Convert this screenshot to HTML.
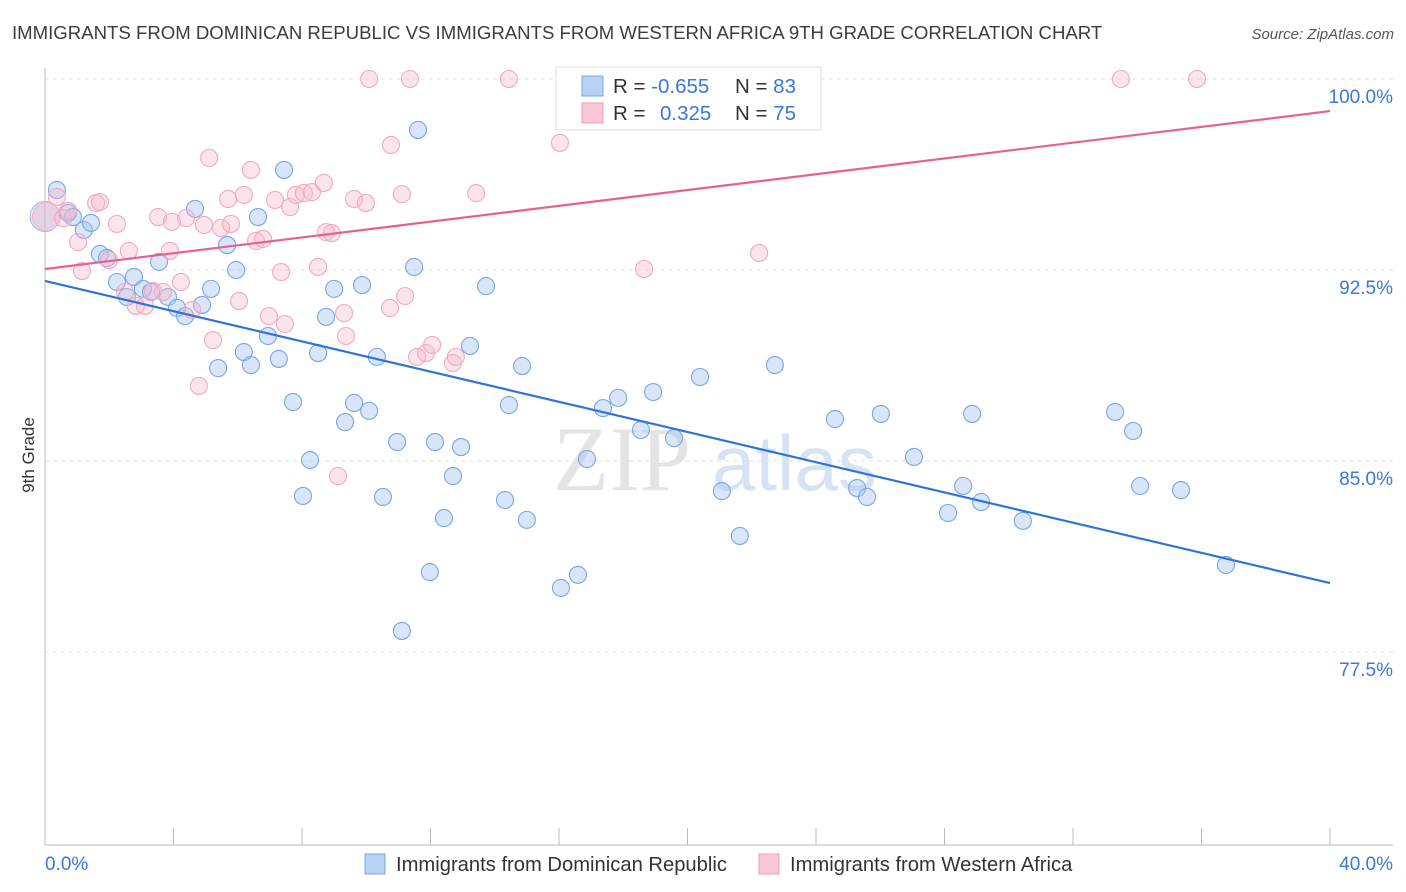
<!DOCTYPE html>
<html><head><meta charset="utf-8"><style>
body{margin:0;background:#fff;font-family:"Liberation Sans",sans-serif;}
svg{display:block}
</style></head><body>
<svg id="chart" width="1406" height="892" viewBox="0 0 1406 892">
<text x="12" y="39" font-size="18.6" fill="#3c3c3c">IMMIGRANTS FROM DOMINICAN REPUBLIC VS IMMIGRANTS FROM WESTERN AFRICA 9TH GRADE CORRELATION CHART</text>
<text x="1394" y="39" font-size="15" fill="#555" text-anchor="end" font-style="italic">Source: ZipAtlas.com</text>
<g id="grid"></g>
<g>
<text x="553" y="490" font-size="92" font-family="Liberation Serif,serif" fill="#e4e4e4">ZIP</text>
<text x="712" y="490" font-size="78" fill="#d6e3f4">atlas</text>
</g>
<g id="axes"></g>
<g id="points"></g>
<g id="lines"></g>
<text transform="translate(34,455) rotate(-90)" font-size="17" fill="#333" text-anchor="middle">9th Grade</text>
<g>
<rect x="556" y="67" width="265" height="63" fill="#fff" stroke="#ddd"/>
<rect x="582" y="76" width="21" height="20" fill="#b7d0f5" stroke="#7aa6e6"/>
<rect x="582" y="103" width="21" height="20" fill="#f9c6d5" stroke="#ef9fb8"/>
<text x="613" y="93" font-size="20.5" fill="#333">R = <tspan fill="#3a78d6">-0.655</tspan></text>
<text x="735" y="93" font-size="20.5" fill="#333">N = <tspan fill="#3a78d6">83</tspan></text>
<text x="613" y="120" font-size="20.5" fill="#333">R = <tspan fill="#3a78d6" x="660">0.325</tspan></text>
<text x="735" y="120" font-size="20.5" fill="#333">N = <tspan fill="#3a78d6">75</tspan></text>
</g>
<g>
<rect x="365" y="854" width="20" height="20" fill="#b7d0f5" stroke="#7aa6e6"/>
<text x="396" y="871" font-size="20.2" fill="#333">Immigrants from Dominican Republic</text>
<rect x="759" y="854" width="20" height="20" fill="#f9c6d5" stroke="#ef9fb8"/>
<text x="790" y="871" font-size="20.2" fill="#333">Immigrants from Western Africa</text>
</g>
</svg>
<script>
const blueX=[0.37,0.72,0.87,1.21,1.43,1.71,1.93,2.24,2.55,2.77,3.05,3.30,3.55,3.83,4.11,4.36,4.67,4.89,5.17,5.39,5.67,5.95,6.19,6.41,6.63,6.94,7.28,7.44,7.72,8.03,8.25,8.50,8.75,9.00,9.34,9.62,9.87,10.09,10.33,10.52,10.96,11.11,11.49,11.61,11.98,12.14,12.42,12.70,12.95,13.23,13.73,14.32,14.44,14.85,15.00,16.06,16.59,16.87,17.37,17.84,18.55,18.93,19.58,20.39,21.07,21.63,22.72,24.59,25.28,25.59,26.02,27.05,28.11,28.58,28.86,29.14,30.44,33.31,33.87,34.09,35.36,36.76];
const blueY=[95.64,94.74,94.58,94.07,94.35,93.13,92.97,92.03,91.44,92.23,91.76,91.64,92.82,91.44,91.01,90.69,94.90,91.13,91.76,88.65,93.48,92.50,89.28,88.77,94.58,89.91,89.01,96.43,87.32,83.63,85.04,89.24,90.66,91.76,86.53,87.28,91.91,86.97,89.09,83.59,85.75,78.33,92.62,98.00,80.64,85.75,82.76,84.41,85.55,89.52,91.87,83.47,87.20,88.73,82.69,80.02,80.53,85.08,87.08,87.48,86.22,87.71,85.90,88.30,83.82,82.06,88.77,86.65,83.94,83.59,86.85,85.16,82.96,84.02,86.85,83.39,82.65,86.93,86.18,84.02,83.86,80.92];
const pinkX=[0.37,0.56,0.72,1.03,1.15,1.59,1.71,1.99,2.24,2.49,2.61,2.83,3.11,3.36,3.52,3.67,3.89,3.95,4.23,4.39,4.58,4.79,4.95,5.11,5.23,5.48,5.70,5.79,6.04,6.19,6.41,6.57,6.79,6.97,7.16,7.35,7.47,7.63,7.81,8.06,8.31,8.50,8.68,8.75,8.93,9.12,9.31,9.37,9.62,9.99,10.09,10.74,10.77,11.11,11.21,11.36,11.58,11.86,12.05,12.70,12.79,13.42,14.44,16.03,16.50,18.65,22.23,33.49,35.86];
const pinkY=[95.37,94.54,94.82,93.60,92.46,95.13,95.17,92.89,94.31,91.64,93.25,91.09,91.09,91.68,94.58,91.64,93.25,94.39,92.03,94.54,90.93,87.95,94.27,96.90,89.75,94.15,95.29,94.31,91.28,95.45,96.43,93.64,93.72,90.69,95.25,92.42,90.38,94.97,95.45,95.52,95.56,92.62,95.92,93.99,93.95,84.41,90.81,89.91,95.29,95.13,100,91.01,97.41,95.48,91.48,100,89.09,89.24,89.56,88.85,89.09,95.52,100,97.49,100,92.54,93.17,100,100];
const blueTrend=[92.07,80.21];
const pinkTrend=[92.54,98.74];
const yTicks=[100,92.5,85,77.5];
const yTickLabels=["100.0%","92.5%","85.0%","77.5%"];
const xTicks=[0,4,8,12,16,20,24,28,32,36,40];
const xEndLabels=["0.0%","40.0%"];
const NS="http://www.w3.org/2000/svg";
const X0=45,X1=1330,Y100=79,PPU=25.47;
function sx(v){return X0+(v/40)*(X1-X0);}
function sy(v){return Y100+(100-v)*PPU;}
function mk(t,a,p){const e=document.createElementNS(NS,t);for(const k in a)e.setAttribute(k,a[k]);p.appendChild(e);return e;}
const grid=document.getElementById('grid'),axes=document.getElementById('axes'),pts=document.getElementById('points'),lines=document.getElementById('lines');
yTicks.forEach((v,i)=>{
 const l=mk('line',{x1:X0,x2:1393,y1:sy(v),y2:sy(v),stroke:'#e2e2e2','stroke-dasharray':'4,4'},grid);
 
 
 const t=mk('text',{x:1393,y:sy(v)+24,'font-size':19,fill:'#3a78d6','text-anchor':'end'},axes);
 t.textContent=yTickLabels[i];
 
 
});
const ax=mk('line',{x1:X0,x2:1393,y1:845,y2:845,stroke:'#bbb'},axes);


const ay=mk('line',{x1:X0,x2:X0,y1:68,y2:845,stroke:'#bbb'},axes);


xTicks.forEach(v=>{
 const t=mk('line',{x1:sx(v),x2:sx(v),y1:828,y2:845,stroke:'#bbb'},axes);
 
 
});
[[xEndLabels[0],X0,'start'],[xEndLabels[1],1393,'end']].forEach(a=>{
 const t=mk('text',{x:a[1],y:870,'font-size':19,fill:'#3a78d6','text-anchor':a[2]},axes);
 t.textContent=a[0];
 
 
});
function dots(xs,ys,fill,stroke,name){
 xs.forEach((x,i)=>{
  const c=mk('circle',{cx:sx(x),cy:sy(ys[i]),r:8.5,fill:fill,stroke:stroke,'stroke-width':1.1},pts);
  
  
 });
}
const bb=mk('circle',{cx:sx(0),cy:sy(94.6),r:15,fill:'rgba(164,196,240,0.4)',stroke:'#9dbde9'},pts);


const pb=mk('circle',{cx:sx(0.05),cy:sy(94.6),r:14,fill:'rgba(245,180,200,0.4)',stroke:'#f3b5c8'},pts);


dots(blueX,blueY,'rgba(164,196,240,0.42)','#78a6e4','dominican-point');
dots(pinkX,pinkY,'rgba(248,184,204,0.38)','#f2a9bf','western-africa-point');
const bl=mk('line',{x1:sx(0),y1:sy(blueTrend[0]),x2:sx(40),y2:sy(blueTrend[1]),stroke:'#2f74d8','stroke-width':2.2},lines);


const pl=mk('line',{x1:sx(0),y1:sy(pinkTrend[0]),x2:sx(40),y2:sy(pinkTrend[1]),stroke:'#e8608c','stroke-width':2.2},lines);


</script>
</body></html>
